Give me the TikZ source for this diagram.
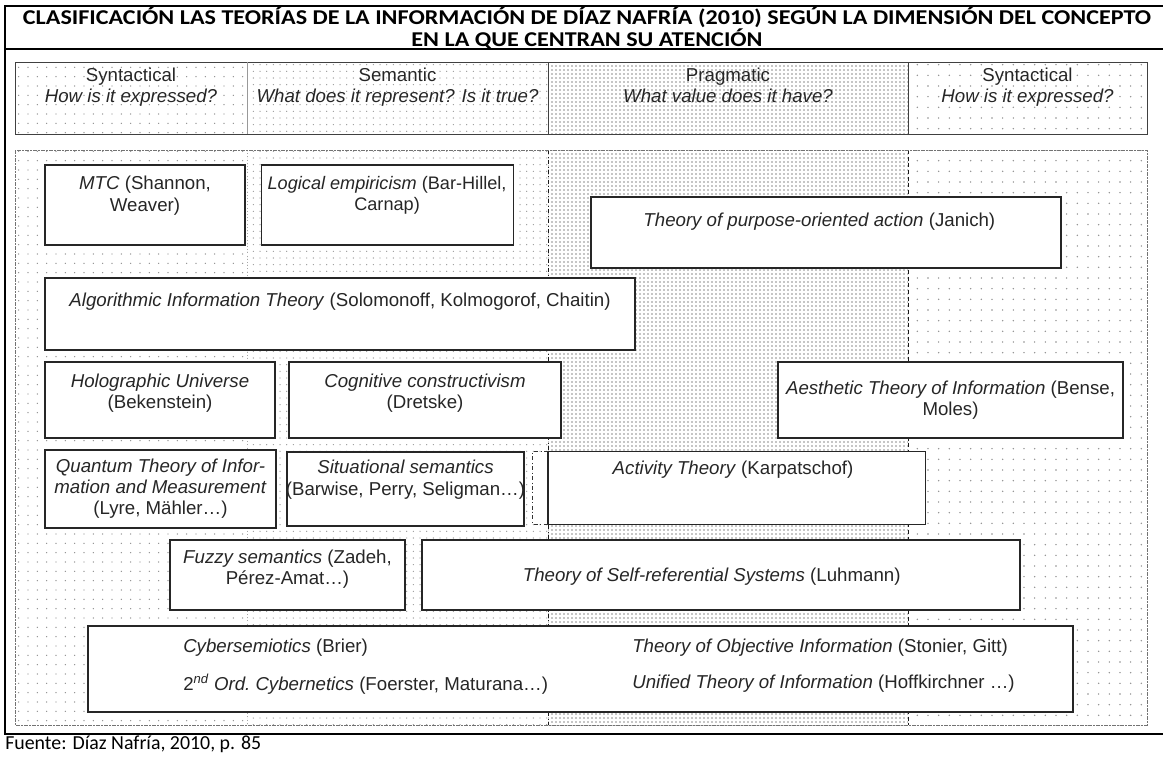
\documentclass[tikz,border=0pt]{standalone}
\usepackage{fontspec}
\setmainfont{Liberation Sans}
\newfontfamily\carlito{Carlito}
\newfontfamily\titlefont[FakeStretch=1.145]{Carlito}
\usetikzlibrary{positioning, patterns.meta}

\begin{document}
\begin{tikzpicture}[x=0.75pt, y=-0.75pt,
        every node/.style={
            inner sep=0pt,
            text=black!85,
            font=\fontsize{14}{15.8}\selectfont
        },
        sz/.style 2 args={minimum width=#1*0.75pt, minimum height=#2*0.75pt},
        box/.style={draw=black!85, line width=0.8pt, fill=white},
        txt/.style={align=center},
        headcell/.style={draw=black!75, line width=0.7pt},
        synleft/.style={pattern={Dots[distance=7pt, radius=0.55pt]}, pattern color=black!45},
        sem/.style={pattern={Dots[distance=5pt, radius=0.5pt]}, pattern color=black!40},
        prag/.style={pattern={Dots[distance=3pt, radius=0.6pt]}, pattern color=black!45},
        synright/.style={pattern={Dots[distance=8pt, radius=0.6pt]}, pattern color=black!45}
    ]
    \useasboundingbox (0,0) rectangle (1163,758);

    % Table frame and title
    \draw[line width=1.2pt] (1163,6) -- (5,6) -- (5,734) -- (1163,734);
    \draw[line width=1.2pt] (5,49) -- (1163,49);
    \node[font=\titlefont\bfseries\fontsize{15.8}{15}\selectfont, align=center, text=black] (title) at (587,28)
        {CLASIFICACIÓN LAS TEORÍAS DE LA INFORMACIÓN DE DÍAZ NAFRÍA (2010) SEGÚN LA DIMENSIÓN DEL CONCEPTO\\EN LA QUE CENTRAN SU ATENCIÓN};
    \node[font=\carlito\fontsize{14.9}{16}\selectfont, anchor=west, text=black] (source) at (5,744) {Fuente: Díaz Nafría, 2010, p. 85};

    % Header row
    \node[headcell, synleft, sz={232}{72}] (hsyn) at (131,98) {};
    \node[headcell, sem, sz={301}{72}] (hsem) at (397.5,98) {};
    \node[headcell, prag, sz={360}{72}] (hprag) at (728,98) {};
    \node[headcell, synright, sz={239}{72}] (hsynr) at (1027.5,98) {};
    \draw[black!40, line width=0.7pt] (hsyn.north east) -- (hsyn.south east);
    \node[txt, anchor=north, yshift=-3.5pt] (hsynt) at (hsyn.north) {\strut Syntactical\\\textit{How is it expressed?}};
    \node[txt, anchor=north, yshift=-3.5pt] (hsemt) at (hsem.north) {\strut Semantic\\\textit{What does it represent? Is it true?}};
    \node[txt, anchor=north, yshift=-3.5pt] (hpragt) at (hprag.north) {\strut Pragmatic\\\textit{What value does it have?}};
    \node[txt, anchor=north, yshift=-3.5pt] (hsynrt) at (hsynr.north) {\strut Syntactical\\\textit{How is it expressed?}};

    % Dimension columns
    \fill[synleft] (15,150) rectangle (247,725);
    \fill[sem] (247,150) rectangle (548,725);
    \fill[prag] (548,150) rectangle (908,725);
    \fill[synright] (908,150) rectangle (1147,725);
    \draw[black!35, dotted] (247,150) -- (247,725);
    \draw[black!90, dash dot] (548,150) -- (548,725);
    \draw[black!90, densely dashed] (908,150) -- (908,725);
    \draw[black!55, dash pattern=on 3pt off 1pt on 1pt off 1pt] (15,150) rectangle (1147,725);
    \coordinate (pragline) at (548,150);

    % First row
    \node[box, sz={200}{80}] (mtc) at (145,205) {};
    \node[txt, yshift=7pt] (mtct) at (mtc) {\textit{MTC} (Shannon,\\Weaver)};
    \node[box, sz={252}{80}, right=11.25pt of mtc] (logic) {};
    \node[txt, yshift=7pt, font=\fontsize{13.6}{15.8}\selectfont] (logict) at (logic) {\textit{Logical empiricism} (Bar-Hillel,\\Carnap)};
    \node[box, sz={470}{71}] (purpose) at (826,232.5) {};
    \node[yshift=8pt, xshift=-5pt] (purposet) at (purpose) {\textit{Theory of purpose-oriented action} (Janich)};

    % Algorithmic
    \node[box, sz={590}{72}] (algo) at (340,314) {};
    \node[yshift=9pt] (algot) at (algo) {\textit{Algorithmic Information Theory} (Solomonoff, Kolmogorof, Chaitin)};

    % Third row
    \node[box, sz={230}{76}] (holo) at (160,400) {};
    \node[txt, yshift=5pt] (holot) at (holo) {\textit{Holographic Universe}\\(Bekenstein)};
    \node[box, sz={272}{76}] (cogn) at (425,400) {};
    \node[txt, yshift=5pt] (cognt) at (cogn) {\textit{Cognitive constructivism}\\(Dretske)};
    \node[box, sz={345}{76}] (aesth) at (950.5,400) {};
    \node[txt] (aestht) at (aesth) {\textit{Aesthetic Theory of Information} (Bense,\\Moles)};

    % Fourth row
    \node[box, sz={231}{78}] (quantum) at (160.5,489) {};
    \node[txt] (quantumt) at (quantum) {\textit{Quantum Theory of Infor-}\\\textit{mation and Measurement}\\(Lyre, Mähler…)};
    \node[box, sz={237}{74}] (situ) at (405.5,489) {};
    \node[txt, yshift=7pt] (situt) at (situ) {\textit{Situational semantics}\\(Barwise, Perry, Seligman…)};
    \node[fill=white, sz={392}{72}] (act) at (729,488) {};
    \draw[black!85, line width=0.8pt] (act.north -| pragline) -- (act.north east) -- (act.south east) -- (act.south -| pragline) -- cycle;
    \draw[black!80, dash dot] (act.north -| pragline) -- (act.north west) -- (act.south west) -- (act.south -| pragline);
    \node[yshift=13.5pt, xshift=3pt] (actt) at (act) {\textit{Activity Theory} (Karpatschof)};

    % Fifth row
    \node[box, sz={235}{70}] (fuzzy) at (287.5,575) {};
    \node[txt, yshift=4.5pt] (fuzzyt) at (fuzzy) {\textit{Fuzzy semantics} (Zadeh,\\Pérez-Amat…)};
    \node[box, sz={598}{70}] (selfref) at (721,575) {};
    \node[xshift=-7pt, yshift=-1.5pt] (selfreft) at (selfref) {\textit{Theory of Self-referential Systems} (Luhmann)};

    % Bottom box
    \node[box, sz={985}{86}] (cyber) at (580.5,669) {};
    \node[anchor=west] (cybsem) at (183,648) {\textit{Cybersemiotics} (Brier)};
    \node[anchor=west] (cybord) at (183,684) {2\textsuperscript{\itshape nd} \textit{Ord.\ Cybernetics} (Foerster, Maturana…)};
    \node[anchor=west] (objinf) at (632,648) {\textit{Theory of Objective Information} (Stonier, Gitt)};
    \node[anchor=west] (unified) at (632,684) {\textit{Unified Theory of Information} (Hoffkirchner …)};
\end{tikzpicture}
\end{document}
